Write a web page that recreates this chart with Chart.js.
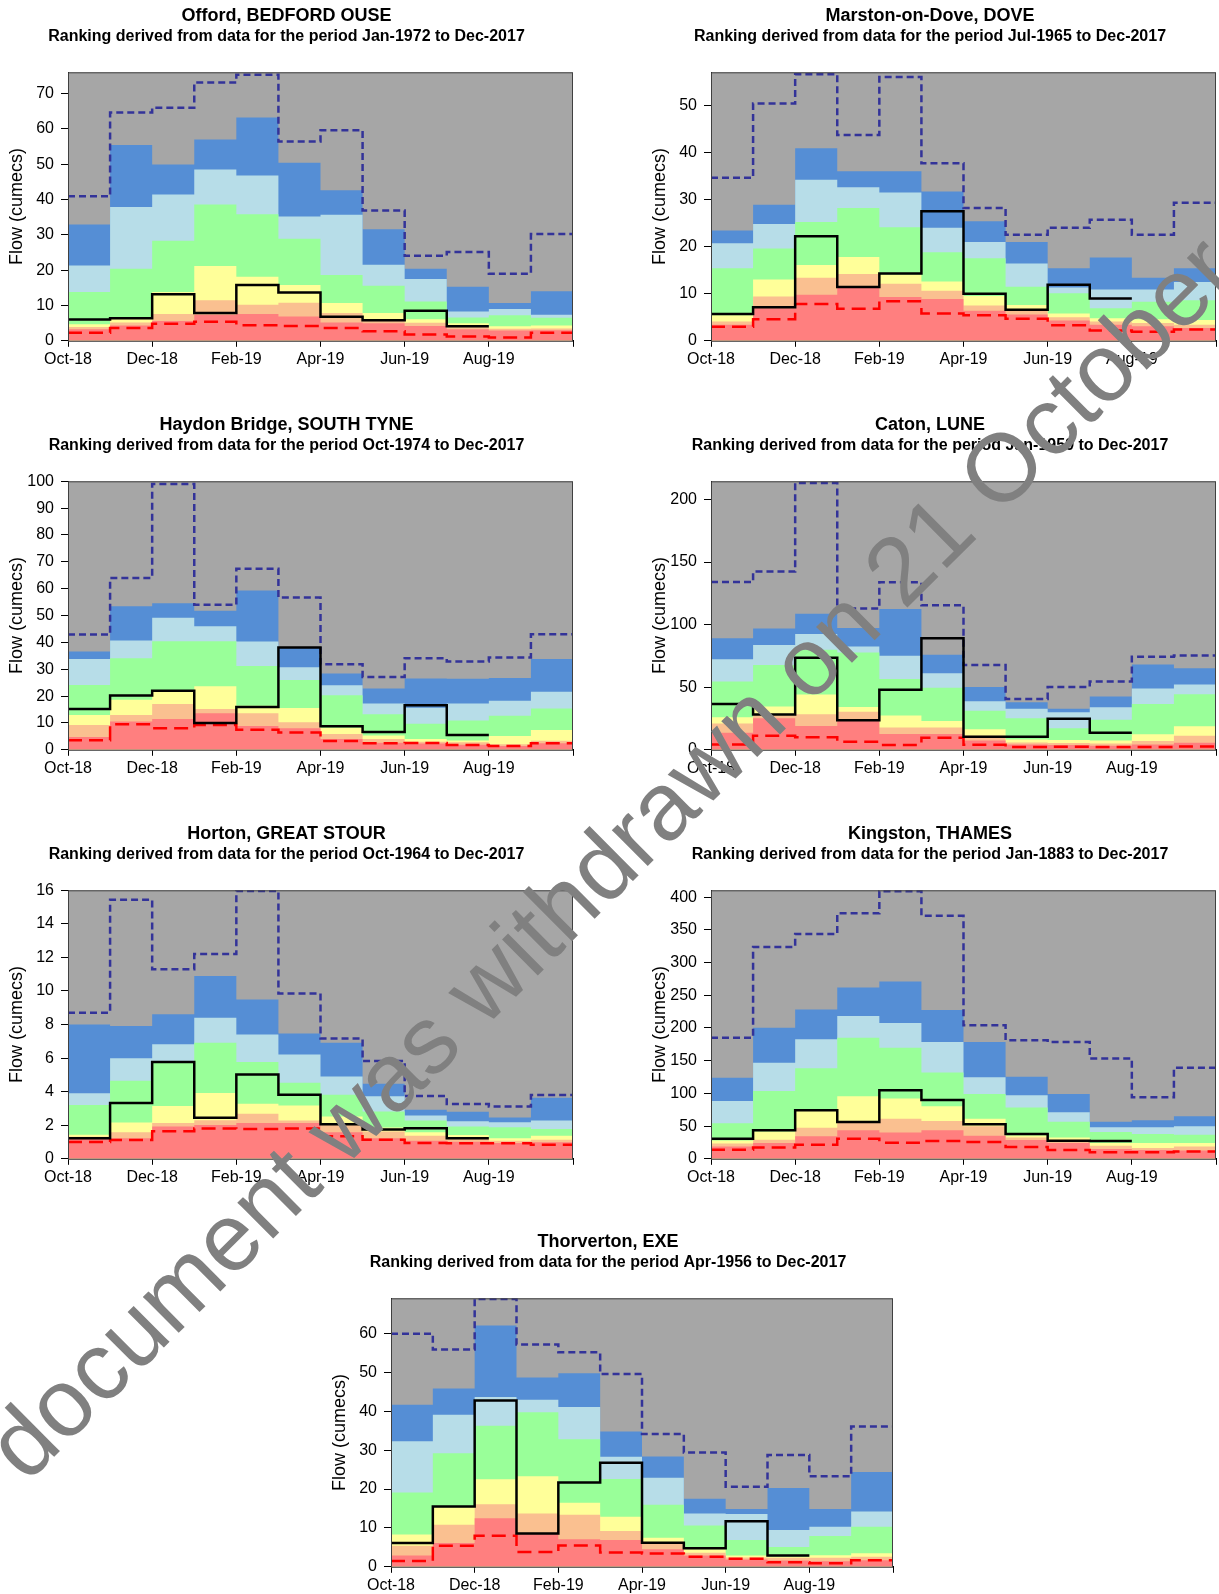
<!DOCTYPE html>
<html>
<head>
<meta charset="utf-8">
<script src="https://cdn.jsdelivr.net/npm/chart.js@4.4.1/dist/chart.umd.min.js"></script>
<style>
  html, body { margin: 0; padding: 0; background: #fff; }
  body { width: 1219px; height: 1594px; position: relative; overflow: hidden; }
  .panel { position: absolute; }
  #watermark { position: absolute; left: 0; top: 0; pointer-events: none; }
</style>
</head>
<body>
<div class="panel" style="left:0;top:0"><canvas id="c0" width="576" height="376"></canvas></div>
<div class="panel" style="left:643px;top:0"><canvas id="c1" width="576" height="376"></canvas></div>
<div class="panel" style="left:0;top:409px"><canvas id="c2" width="576" height="376"></canvas></div>
<div class="panel" style="left:643px;top:409px"><canvas id="c3" width="576" height="376"></canvas></div>
<div class="panel" style="left:0;top:818px"><canvas id="c4" width="576" height="376"></canvas></div>
<div class="panel" style="left:643px;top:818px"><canvas id="c5" width="576" height="376"></canvas></div>
<div class="panel" style="left:323px;top:1226px"><canvas id="c6" width="573" height="376"></canvas></div>

<svg id="watermark" width="1219" height="1594">
  <text transform="translate(-121 1631) rotate(-44.86)" font-family="Liberation Sans, Arial, sans-serif" font-size="96" fill="#808080">This document was withdrawn on 21 October 2019</text>
</svg>

<script>
// stations, in panel order
const stations = ['Offord, BEDFORD OUSE', 'Marston-on-Dove, DOVE', 'Haydon Bridge, SOUTH TYNE', 'Caton, LUNE',
                  'Horton, GREAT STOUR', 'Kingston, THAMES', 'Thorverton, EXE'];
const periods = ['Jan-1972 to Dec-2017', 'Jul-1965 to Dec-2017', 'Oct-1974 to Dec-2017', 'Jan-1959 to Dec-2017',
                 'Oct-1964 to Dec-2017', 'Jan-1883 to Dec-2017', 'Apr-1956 to Dec-2017'];
const monthTicks = ['Oct-18', 'Dec-18', 'Feb-19', 'Apr-19', 'Jun-19', 'Aug-19'];

// y axis top and tick step per panel
const yMax = [76, 57, 100, 214.5, 16, 410.5, 69.1];
const yStep = [10, 10, 10, 50, 2, 50, 10];

// monthly band tops (Oct-18 .. Sep-19), cumecs
const bandRed = [
  [3.3, 4.3, 5.6, 7.4, 7.6, 6.9, 5.2, 5.0, 4.2, 3.3, 2.9, 3.0],
  [3.4, 6.9, 9.8, 11.3, 9.3, 8.9, 6.4, 5.6, 4.3, 3.4, 3.1, 2.7],
  [4.8, 10.5, 11.5, 13.6, 8.9, 8.0, 4.0, 2.6, 2.3, 1.9, 1.4, 2.4],
  [13.7, 25.3, 19.1, 23.1, 12.7, 12.7, 7.5, 4.3, 3.8, 3.2, 4.3, 5.7],
  [1.22, 1.22, 1.92, 2.02, 2.14, 2.14, 1.58, 1.22, 1.08, 1.02, 0.94, 0.98],
  [18.9, 24.0, 34.3, 43.5, 40.4, 43.5, 35.3, 28.6, 24.0, 14.8, 13.3, 12.8],
  [2.9, 6.1, 12.5, 8.6, 7.1, 6.9, 4.5, 2.9, 1.9, 1.6, 1.4, 1.7]
];
const bandSalmon = [
  [3.9, 5.2, 7.6, 11.5, 10.2, 10.8, 7.9, 6.2, 5.1, 4.0, 3.4, 3.5],
  [4.1, 9.4, 13.4, 14.2, 12.1, 10.6, 7.5, 6.3, 5.0, 4.1, 3.8, 3.4],
  [9.2, 13.0, 17.1, 15.2, 13.6, 10.3, 5.9, 4.0, 3.0, 2.8, 2.1, 3.4],
  [21.0, 27.5, 28.5, 30.4, 17.8, 17.8, 11.3, 5.9, 5.4, 5.1, 7.0, 11.3],
  [1.32, 1.58, 2.14, 2.3, 2.68, 2.28, 2.02, 1.62, 1.38, 1.22, 1.08, 1.14],
  [23.5, 29.2, 47.6, 55.8, 61.4, 57.8, 49.6, 32.7, 27.1, 19.9, 16.4, 18.9],
  [5.4, 10.8, 16.1, 13.7, 13.4, 9.2, 6.2, 3.6, 2.4, 2.3, 2.3, 2.6]
];
const bandYellow = [
  [4.7, 6.2, 13.8, 21.2, 18.1, 15.8, 10.7, 7.9, 6.1, 5.0, 4.1, 4.3],
  [5.4, 13.0, 16.1, 17.8, 14.1, 12.6, 9.5, 7.6, 5.8, 4.8, 4.6, 4.4],
  [13.0, 18.6, 21.5, 23.7, 16.4, 15.6, 8.2, 5.3, 4.0, 3.5, 5.1, 7.4],
  [26.1, 34.5, 44.1, 34.2, 27.5, 23.1, 16.4, 8.3, 7.8, 7.5, 12.4, 18.8],
  [1.44, 2.16, 3.14, 3.92, 3.28, 3.18, 2.52, 1.86, 1.58, 1.42, 1.22, 1.38],
  [28.1, 41.9, 74.2, 95.7, 92.1, 80.3, 61.4, 35.8, 32.7, 24.0, 24.0, 24.0],
  [8.3, 15.3, 22.5, 23.3, 16.5, 12.9, 7.5, 4.5, 2.9, 2.6, 3.0, 3.5]
];
const bandGreen = [
  [13.8, 20.4, 28.3, 38.6, 35.8, 28.9, 18.6, 15.6, 11.1, 6.6, 7.2, 6.5],
  [15.4, 19.6, 25.2, 28.2, 24.1, 18.8, 17.5, 11.5, 10.1, 6.9, 8.3, 8.6],
  [24.1, 34.1, 40.4, 40.4, 31.2, 26.0, 20.3, 13.2, 9.7, 10.9, 12.7, 15.4],
  [54.6, 67.8, 79.9, 77.8, 56.5, 49.5, 31.2, 25.3, 17.2, 24.0, 36.6, 44.4],
  [3.20, 4.65, 5.75, 6.91, 5.77, 4.53, 3.82, 2.82, 2.28, 1.92, 1.88, 1.78],
  [54.2, 103.8, 138.6, 185.2, 169.8, 132.0, 99.2, 78.3, 56.8, 40.9, 37.9, 36.8],
  [19.1, 29.2, 36.3, 39.8, 32.8, 22.6, 16.0, 10.6, 6.9, 5.1, 7.9, 10.3]
];
const bandLightBlue = [
  [21.3, 37.9, 41.4, 48.5, 46.8, 35.2, 35.7, 21.5, 17.5, 8.3, 9.0, 7.4],
  [20.7, 24.8, 34.2, 32.6, 31.5, 24.0, 21.0, 16.4, 11.3, 10.9, 10.9, 12.5],
  [33.8, 40.7, 49.2, 46.0, 40.3, 30.7, 24.0, 17.2, 15.7, 17.2, 18.3, 21.6],
  [72.4, 83.7, 92.6, 82.6, 75.1, 61.1, 38.8, 32.8, 29.9, 33.9, 49.0, 52.2],
  [3.90, 5.99, 6.83, 8.41, 7.41, 6.21, 4.91, 3.72, 2.58, 2.24, 2.18, 2.28],
  [88.5, 146.8, 182.6, 218.4, 207.7, 178.5, 124.8, 97.2, 71.1, 48.1, 48.1, 49.6],
  [32.3, 39.1, 43.7, 43.0, 41.1, 28.3, 22.9, 13.7, 13.6, 9.5, 10.3, 14.2]
];
const bandBlue = [
  [32.9, 55.4, 49.9, 57.0, 63.2, 50.4, 42.6, 31.6, 20.4, 15.3, 10.7, 14.0],
  [23.4, 28.9, 40.9, 36.0, 36.0, 31.7, 25.4, 21.0, 15.4, 17.7, 13.4, 15.4],
  [36.6, 53.5, 54.6, 51.8, 59.3, 38.0, 28.4, 22.8, 26.6, 26.5, 26.7, 33.8],
  [89.1, 96.9, 108.7, 97.4, 112.5, 75.9, 50.1, 38.0, 32.8, 42.5, 68.1, 65.1],
  [8.01, 7.91, 8.61, 10.9, 9.49, 7.47, 6.91, 4.47, 2.92, 2.80, 2.46, 3.64],
  [123.8, 200.5, 228.1, 261.9, 271.1, 227.6, 178.5, 125.3, 99.2, 56.8, 58.8, 65.0],
  [41.7, 45.9, 62.1, 48.7, 49.8, 34.8, 28.4, 17.5, 14.9, 20.3, 14.9, 24.4]
];

// period of record max and min monthly flows
const maxFlow = [
  [40.9, 64.6, 66.0, 73.1, 75.3, 56.4, 59.6, 36.9, 24.1, 25.1, 19.0, 30.2],
  [34.6, 50.4, 56.6, 43.7, 56.0, 37.7, 28.2, 22.5, 24.0, 25.7, 22.5, 29.3],
  [42.9, 64.0, 99.0, 54.0, 67.4, 56.7, 31.9, 27.1, 34.1, 32.9, 34.4, 43.0],
  [134.0, 142.4, 213.2, 112.8, 133.8, 115.5, 67.8, 40.6, 50.1, 54.6, 74.3, 75.4],
  [8.71, 15.44, 11.29, 12.2, 15.96, 9.85, 7.17, 5.83, 3.74, 3.26, 3.12, 3.80],
  [185.2, 323.8, 343.7, 375.4, 409.2, 371.4, 204.1, 181.1, 178.5, 153.5, 94.1, 139.1],
  [60.0, 55.9, 68.9, 57.2, 55.2, 49.6, 34.2, 29.4, 20.6, 28.8, 23.3, 36.1]
];
const minFlow = [
  [2.3, 3.6, 4.8, 5.4, 4.4, 4.2, 3.6, 2.7, 1.8, 1.2, 0.9, 2.3],
  [3.0, 4.6, 7.8, 6.8, 8.4, 5.8, 5.4, 4.7, 3.3, 2.2, 1.9, 2.4],
  [3.6, 9.5, 8.0, 9.2, 7.5, 6.4, 3.3, 2.4, 2.5, 1.8, 1.4, 2.4],
  [4.3, 11.3, 10.0, 6.5, 3.8, 9.7, 4.0, 2.2, 2.4, 2.2, 2.2, 2.7],
  [1.0, 1.12, 1.64, 1.80, 1.78, 1.80, 1.34, 1.14, 0.94, 0.92, 0.92, 0.84],
  [13.8, 17.4, 21.5, 30.7, 24.6, 27.1, 25.6, 17.9, 13.3, 10.2, 10.2, 11.3],
  [1.5, 5.4, 8.0, 3.8, 5.5, 3.7, 3.4, 2.6, 2.1, 1.2, 0.9, 1.7]
];

// observed monthly mean flow, Oct-18 .. Jul-19
const actualFlow = [
  [6.0, 6.4, 13.2, 7.9, 15.8, 13.7, 6.8, 5.8, 8.5, 4.1],
  [5.7, 7.1, 22.2, 11.4, 14.3, 27.5, 10.0, 6.6, 11.9, 9.0],
  [15.2, 20.2, 22.0, 10.0, 15.9, 38.1, 8.8, 6.6, 16.6, 5.5],
  [36.6, 28.3, 73.5, 23.7, 47.9, 89.1, 10.5, 10.5, 24.8, 13.7],
  [1.22, 3.32, 5.77, 2.44, 5.03, 3.82, 2.06, 1.74, 1.82, 1.22],
  [30.7, 43.5, 74.2, 56.3, 104.9, 90.0, 52.7, 37.9, 27.6, 27.1],
  [6.1, 15.5, 42.8, 8.6, 21.7, 26.8, 6.2, 4.8, 11.7, 2.9]
];

const FONT = '"Liberation Sans", Arial, sans-serif';
Chart.defaults.font.family = FONT;
Chart.defaults.color = '#000';

// grey plot background + frame
const plotFrame = {
  id: 'plotFrame',
  beforeDraw(chart) {
    const { ctx, chartArea: a } = chart;
    ctx.save();
    ctx.fillStyle = '#a6a6a6';
    ctx.fillRect(a.left, a.top, a.right - a.left, a.bottom - a.top);
    ctx.restore();
  },
  afterDraw(chart) {
    const { ctx, chartArea: a } = chart;
    ctx.save();
    ctx.strokeStyle = '#404040';
    ctx.lineWidth = 1;
    ctx.strokeRect(a.left + 0.5, a.top + 0.5, a.right - a.left - 1, a.bottom - a.top);
    ctx.restore();
  }
};

// one point per month start, last month held to the end
function stepData(vals) {
  const pts = vals.map((v, k) => ({ x: k, y: v }));
  pts.push({ x: vals.length, y: vals[vals.length - 1] });
  return pts;
}

function band(vals, color, order) {
  return {
    data: stepData(vals), stepped: true, fill: 'origin', order: order,
    backgroundColor: color, borderColor: 'rgba(0,0,0,0)', borderWidth: 0, pointRadius: 0
  };
}

function line(vals, color, width, dash, order) {
  return {
    data: stepData(vals), stepped: true, fill: false, order: order,
    borderColor: color, borderWidth: width, borderDash: dash, pointRadius: 0
  };
}

function graphicStation(i) {
  const rightPad = i === 6 ? 3 : (i % 2 === 1 ? 2 : 3);
  const config = {
    type: 'line',
    data: {
      datasets: [
        line(actualFlow[i], '#000000', 2.5, [], 0),
        line(minFlow[i], '#ff0000', 2.5, [14, 7], 1),
        line(maxFlow[i], '#333399', 2.5, [7, 4], 2),
        band(bandRed[i], '#ff7f7f', 11),
        band(bandSalmon[i], '#fac090', 12),
        band(bandYellow[i], '#ffff99', 13),
        band(bandGreen[i], '#99ff99', 14),
        band(bandLightBlue[i], '#b7dde8', 15),
        band(bandBlue[i], '#558ed5', 16)
      ]
    },
    options: {
      responsive: false,
      animation: false,
      events: [],
      layout: { padding: { left: 0, right: rightPad, top: 0, bottom: 4 } },
      plugins: {
        legend: { display: false },
        tooltip: { enabled: false },
        title: {
          display: true, text: stations[i], color: '#000',
          font: { size: 18, weight: 'bold' }, padding: { top: 5, bottom: 0 }
        },
        subtitle: {
          display: true, text: 'Ranking derived from data for the period ' + periods[i], color: '#000',
          font: { size: 16, weight: 'bold' }, padding: { top: 0, bottom: 26.5 }
        }
      },
      scales: {
        x: {
          type: 'linear', min: 0, max: 12,
          ticks: {
            stepSize: 2, autoSkip: false, maxRotation: 0, padding: 3,
            font: { size: 16 }, color: '#000',
            callback: v => monthTicks[v / 2] || ''
          },
          grid: { drawOnChartArea: false, drawTicks: true, tickLength: 6, color: '#000' },
          border: { display: true, color: '#000', width: 1 }
        },
        y: {
          min: 0, max: yMax[i],
          ticks: { stepSize: yStep[i], includeBounds: false, padding: 7, font: { size: 16 }, color: '#000' },
          grid: { drawOnChartArea: false, drawTicks: true, tickLength: 7, color: '#000' },
          border: { display: true, color: '#000', width: 1 },
          title: {
            display: true, text: 'Flow (cumecs)', color: '#000',
            font: { size: 18 }, padding: { top: 6, bottom: 4 }
          },
          afterFit: s => { s.width = 68; }
        }
      }
    },
    plugins: [plotFrame]
  };
  new Chart(document.getElementById('c' + i), config);
}

stations.forEach((s, i) => graphicStation(i));
</script>
</body>
</html>
